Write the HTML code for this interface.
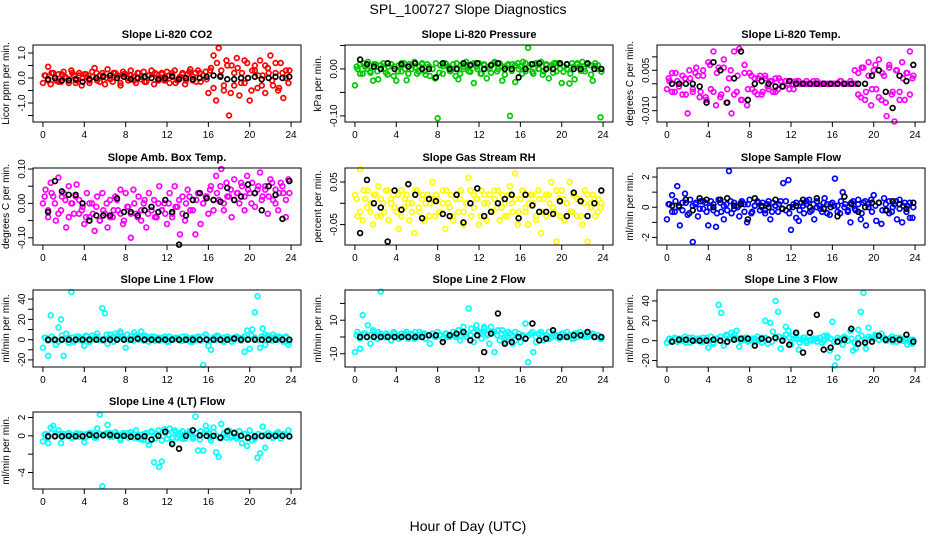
<!DOCTYPE html>
<html><head><meta charset="utf-8">
<style>
html,body{margin:0;padding:0;background:#fff;}
svg{display:block;font-family:"Liberation Sans",sans-serif;}
</style></head>
<body>
<svg id="chart" width="936" height="540" viewBox="0 0 936 540" xmlns="http://www.w3.org/2000/svg">
<text x="468" y="14" text-anchor="middle" font-size="14">SPL_100727  Slope Diagnostics</text>
<text x="468" y="531" text-anchor="middle" font-size="14">Hour of Day (UTC)</text>
</svg>
<script>
const xTicks=[0,4,8,12,16,20,24];
const titles=["Slope Li-820 CO2","Slope Li-820 Pressure","Slope Li-820 Temp.","Slope Amb. Box Temp.","Slope Gas Stream RH","Slope Sample Flow","Slope Line 1 Flow","Slope Line 2 Flow","Slope Line 3 Flow","Slope Line 4 (LT) Flow"];
const yTitles=["Licor ppm per min.","kPa per min.","degrees C per min.","degrees C per min.","percent per min.","ml/min per min.","ml/min per min.","ml/min per min.","ml/min per min.","ml/min per min."];
const colors=["#ff0000","#00c800","#ff00ff","#ff00ff","#ffff00","#0000ff","#00ffff","#00ffff","#00ffff","#00ffff"];
const yRanges=[[-1.76,1.32],[-0.113,0.051],[-0.0142,0.0144],[-0.121,0.103],[-0.098,0.083],[-2.5,2.6],[-27,49],[-17.9,28],[-26.5,51],[-5.8,2.6]];
const yTickVals=[[1,0.5,0,-0.5,-1,-1.5],[0.05,0,-0.05,-0.1],[0.01,0.005,0,-0.005,-0.01],[0.1,0.05,0,-0.05,-0.1],[0.05,0,-0.05],[2,1,0,-1,-2],[40,30,20,10,0,-10,-20],[20,10,0,-10],[40,20,0,-20],[2,0,-2,-4]];
const yTickLabels=[["1.0","","0.0","","-1.0",""],["","0.00","","-0.10"],["","0.005","","","-0.010"],["0.10","","0.00","","-0.10"],["0.05","","-0.05"],["2","","0","","-2"],["40","","20","","0","","-20"],["","10","","-10"],["40","20","0","-20"],["2","0","","-4"]];

const co2=[-0.2,0.1,0.45,-0.25,0.2,-0.1,0.15,-0.15,0.25,0.0,-0.2,0.3,0.1,-0.1,0.2,-0.3,0.15,0.05,-0.2,0.25,0.4,-0.1,0.1,0.2,-0.25,0.35,0.0,-0.15,0.2,0.1,-0.3,0.25,0.15,-0.1,0.3,0.05,-0.2,0.2,-0.05,0.25,-0.15,0.1,0.3,-0.25,0.15,0.0,0.2,-0.1,0.25,-0.2,0.1,0.3,-0.1,0.05,0.2,-0.25,0.15,0.35,-0.1,0.2,0.3,-0.15,0.1,0.25,-0.6,0.4,0.9,-0.9,1.2,0.3,-0.5,0.7,-1.5,0.5,-0.3,0.8,-0.7,0.2,-0.2,0.6,-0.9,0.3,0.5,-0.4,0.7,0.1,-0.6,0.4,0.9,-0.3,0.2,-0.5,0.6,-0.8,0.3,-0.2];
const co2B=[0.1,-0.1,0.2,0.0,-0.15,0.15,0.05,-0.05,0.2,-0.2,0.1,0.0,0.15,-0.1,0.05,0.2,-0.15,0.1,0.0,-0.05,0.2,0.1,-0.2,0.15,0.0,0.1,-0.1,0.2,0.05,-0.15,0.1,0.0,0.2,-0.1,0.15,-0.05,0.1,0.2,-0.2,0.0,0.15,-0.1,0.25,0.05,-0.15,0.2,0.1,-0.05,0.3,-0.4,0.6,0.1,-0.3,0.5,-0.6,0.2,0.4,-0.2,0.7,0.0,-0.5,0.3,0.1,-0.3,0.5,0.2,-0.1,0.6,-0.4,0.2,0.0,0.3];
const co2K=[-0.05,0.0,-0.1,-0.1,-0.05,-0.15,-0.05,0.0,0.05,0.1,0.0,0.05,-0.05,0.0,0.05,0.0,-0.05,0.0,0.05,-0.05,0.0,-0.05,0.0,0.05,0.1,0.05,-0.05,-0.05,0.0,0.0,0.05,-0.05,0.0,0.05,0.0,0.05];
const pres=[-0.035,0.0,0.01,-0.01,0.005,0.015,-0.005,-0.025,0.01,-0.022,0.0,0.012,-0.008,0.005,0.01,-0.015,-0.025,0.008,-0.005,0.012,-0.024,0.01,0.0,0.015,-0.01,0.005,0.012,-0.005,0.01,-0.015,0.0,-0.02,-0.105,0.008,-0.01,0.012,0.005,-0.005,0.01,-0.015,-0.022,0.008,0.0,0.015,-0.005,0.01,-0.03,0.005,0.012,-0.01,0.008,-0.02,0.0,0.01,0.015,-0.005,0.012,-0.025,0.005,0.008,-0.1,0.01,-0.028,0.012,0.005,0.015,-0.005,0.045,0.01,-0.01,0.012,0.0,0.015,-0.005,0.01,-0.02,0.008,0.012,-0.005,0.01,-0.03,0.005,0.0,-0.031,0.012,-0.022,0.01,0.005,0.015,-0.005,0.01,0.008,-0.025,0.012,0.0,-0.103];
const presB=[0.005,-0.01,0.012,0.0,-0.008,0.01,-0.005,0.008,0.0,-0.012,0.01,0.005,-0.005,0.012,0.0,-0.01,0.008,0.003,-0.006,0.01,-0.012,0.005,0.0,0.012,-0.008,0.006,0.01,-0.004,0.0,0.012,-0.01,0.005,0.008,-0.006,0.012,0.0,-0.01,0.01,0.004,-0.008,0.012,0.0,0.006,-0.012,0.01,-0.004,0.008,0.0,-0.01,0.012,0.005,-0.006,0.01,0.0,-0.012,0.008,0.004,-0.008,0.012,0.0,-0.006,0.01,-0.01,0.005,0.012,-0.004,0.0,0.01,-0.012,0.006,0.008,-0.006];
const presK=[0.02,0.01,0.005,0.0,0.012,0.0,0.01,0.005,0.012,0.0,0.0,-0.018,0.012,0.0,0.0,0.012,0.008,0.012,0.0,0.008,0.012,0.0,0.0,-0.018,0.0,0.01,0.012,0.0,0.0,0.012,0.01,0.0,0.0,0.012,0.0,0.0];
const temp=[-0.002,0.001,0.004,-0.003,0.001,0.0,-0.004,0.002,-0.011,0.002,-0.003,0.004,0.003,-0.003,0.005,-0.005,0.008,-0.002,0.012,-0.008,0.006,-0.004,0.009,-0.007,0.002,-0.011,0.012,-0.003,0.013,-0.006,0.007,-0.008,0.004,-0.002,0.002,-0.004,0.003,-0.003,0.002,-0.001,0.001,-0.003,0.002,-0.002,0.001,-0.001,0.001,0.0,0.001,-0.002,0.0,0.001,0.0,0.0,0.001,0.0,0.0,0.0,0.001,0.0,0.0,0.0,0.0,0.0,0.0,0.0,0.0,0.001,0.0,0.0,0.0,0.001,0.0,0.0,0.004,-0.005,0.006,-0.003,0.008,-0.008,0.005,-0.002,0.009,-0.006,0.003,-0.012,0.007,-0.004,-0.014,0.005,-0.003,0.008,-0.006,0.004,0.012,0.002];
const tempB=[0.002,-0.003,0.004,-0.001,0.003,-0.004,0.005,-0.002,0.006,-0.005,0.003,-0.006,0.007,-0.003,0.004,-0.005,0.006,-0.002,0.005,-0.004,0.003,-0.006,0.004,-0.002,0.003,-0.003,0.002,-0.004,0.003,-0.002,0.001,-0.003,0.002,-0.001,0.001,-0.002,0.0,0.001,0.0,0.0,0.0,0.0,0.001,0.0,0.0,0.0,0.0,0.0,0.0,0.0,0.001,0.0,0.0,0.0,0.005,-0.004,0.006,-0.006,0.003,-0.002,0.007,-0.005,0.004,-0.007,0.006,-0.003,0.005,-0.006,0.002,0.004,-0.004,0.003];
const tempK=[0.0,0.0,0.0,0.0,-0.001,-0.007,0.008,0.005,-0.007,0.002,0.012,-0.006,0.0,0.001,0.0,-0.001,-0.001,0.001,0.0,0.0,0.0,0.0,0.0,0.0,0.0,0.0,0.0,0.0,0.0,0.003,0.005,-0.003,-0.009,0.003,0.001,0.007];
const amb=[0.0,0.04,-0.04,0.06,0.02,-0.05,0.075,-0.02,0.03,-0.07,0.05,0.0,-0.03,0.055,0.01,-0.02,-0.06,0.03,-0.04,0.0,-0.08,0.02,-0.05,0.03,-0.03,-0.07,0.01,-0.04,0.02,-0.02,0.04,-0.06,0.03,-0.01,-0.10,0.04,-0.03,0.02,-0.05,0.0,-0.07,0.03,-0.02,0.01,-0.04,0.05,-0.02,0.0,-0.06,0.03,-0.03,0.05,-0.01,-0.09,0.02,-0.05,0.04,-0.02,0.01,-0.09,0.03,-0.06,0.0,0.02,-0.03,0.05,-0.02,0.08,0.01,0.10,-0.02,0.06,0.02,-0.04,0.07,0.03,0.0,0.05,-0.02,0.08,0.03,0.06,-0.01,0.04,0.09,0.02,0.05,-0.03,0.07,0.01,0.04,-0.02,0.06,0.03,-0.04,0.07];
const ambB=[0.02,-0.02,0.03,0.0,-0.03,0.02,0.01,-0.04,0.0,0.02,-0.03,-0.01,-0.04,0.0,-0.03,-0.01,-0.05,-0.02,0.0,-0.04,-0.02,0.01,-0.03,-0.05,-0.01,-0.03,0.0,-0.04,-0.02,0.01,-0.03,-0.01,-0.04,0.0,-0.02,-0.03,0.0,-0.04,-0.01,0.01,-0.03,0.0,0.02,-0.02,0.01,0.03,0.0,0.02,0.04,0.01,0.03,0.05,0.0,0.02,0.04,0.01,0.03,0.06,0.02,0.04,0.0,0.03,0.05,0.01,0.04,0.02,0.06,0.0,0.03,0.05,0.01,0.03];
const ambK=[-0.025,0.065,0.035,0.025,0.025,0.0,-0.05,-0.035,-0.035,-0.035,0.015,-0.025,-0.025,-0.035,-0.02,-0.01,-0.025,0.01,-0.025,-0.12,-0.035,0.01,0.03,0.015,0.01,0.005,0.045,0.01,0.02,0.055,0.03,-0.02,0.05,0.025,-0.045,0.065];
const rh=[0.02,-0.03,0.08,-0.04,0.01,0.03,-0.02,-0.05,0.02,0.04,-0.03,0.0,0.03,-0.04,0.01,0.02,-0.02,-0.06,0.03,-0.01,0.02,-0.04,0.0,-0.07,0.03,-0.02,0.01,-0.04,0.02,0.0,0.05,-0.03,0.01,-0.02,0.03,-0.06,0.0,0.02,-0.04,0.01,-0.02,0.03,-0.05,0.0,0.06,-0.03,0.02,0.01,-0.05,0.03,0.0,-0.04,0.02,-0.02,0.03,-0.01,-0.04,0.02,0.0,-0.03,0.04,-0.02,0.07,-0.05,0.01,0.03,-0.02,-0.05,0.02,0.0,-0.04,0.03,-0.07,0.01,-0.03,0.02,0.05,-0.02,-0.09,0.01,0.03,-0.04,0.0,0.05,-0.02,0.02,-0.03,0.01,-0.05,0.03,-0.09,0.0,0.02,-0.03,0.01,-0.01];
const rhB=[0.01,-0.02,0.03,-0.01,0.0,0.02,-0.03,0.01,-0.02,0.03,0.0,-0.01,0.02,-0.03,0.01,0.0,-0.02,0.03,-0.01,0.02,0.0,-0.03,0.01,0.02,-0.02,0.0,0.03,-0.01,-0.03,0.02,0.01,-0.02,0.0,0.03,-0.01,0.01,-0.03,0.02,0.0,-0.02,0.01,0.03,-0.01,-0.03,0.02,0.0,0.01,-0.02,0.03,-0.01,0.0,0.02,-0.03,0.01,-0.02,0.02,0.0,-0.01,0.03,-0.03,0.01,0.0,-0.02,0.02,0.01,-0.03,0.0,0.02,-0.01,0.01,-0.02,0.0];
const rhK=[-0.07,0.055,0.0,-0.01,-0.09,0.03,-0.015,0.045,0.02,-0.035,0.01,0.005,-0.025,-0.03,0.02,-0.045,0.0,0.035,-0.03,-0.02,0.0,0.01,0.02,-0.035,0.02,-0.005,-0.02,-0.02,-0.025,0.005,-0.03,0.025,0.005,-0.03,0.0,0.03];
const flow=[-0.8,0.2,0.8,-0.3,1.4,-1.2,0.3,0.9,-0.5,0.5,-2.3,0.2,-0.6,0.4,-0.1,0.3,-1.2,0.4,-0.2,-1.3,0.5,-0.3,-0.8,0.2,2.4,-0.4,0.3,0.1,-0.6,0.4,0.2,-1.0,0.5,-0.3,0.1,0.4,-0.2,0.3,-0.4,0.2,-0.8,0.3,0.1,-0.3,0.4,1.6,-0.2,1.8,-1.5,0.2,-0.7,-0.9,0.3,-0.4,0.2,0.5,-0.2,-0.8,0.4,0.1,-0.3,0.6,0.2,-0.5,0.3,1.9,0.1,-0.4,1.0,0.2,-0.3,-1.0,0.4,-0.2,0.5,-0.8,0.3,-1.2,0.2,0.5,0.8,-0.9,0.3,-1.1,0.6,-0.2,0.4,-0.3,0.2,-0.8,0.5,-1.0,0.3,0.1,-0.7,-0.7];
const flowB=[0.2,-0.3,0.4,0.0,-0.2,0.3,-0.4,0.1,0.3,-0.1,0.4,-0.3,0.0,0.2,-0.4,0.3,0.1,-0.2,0.4,-0.1,0.0,0.3,-0.3,0.2,-0.4,0.1,0.3,0.0,-0.2,0.4,-0.3,0.1,0.2,-0.1,0.4,-0.4,0.0,0.3,-0.2,0.1,0.4,-0.3,0.2,0.0,-0.1,0.3,-0.4,0.2,0.1,-0.3,0.4,0.0,-0.2,0.3,-0.1,0.2,-0.4,0.4,0.0,-0.3,0.1,0.3,-0.2,0.2,-0.4,0.0,0.4,-0.1,0.1,-0.3,0.3,0.0];
const flowK=[0.1,0.1,0.5,-0.2,0.6,0.5,0.0,0.5,0.6,0.1,0.2,-0.8,0.6,0.1,0.0,0.5,-0.1,0.0,0.1,0.5,0.0,0.6,-0.1,0.0,-0.6,0.7,0.2,-0.3,0.0,0.3,0.3,-0.2,0.4,0.2,-0.1,0.3];
const l1=[-8,2,-16,24,0,-5,12,20,-16,6,2,47,-2,3,0,1,-6,3,-2,4,1,6,0,31,26,-4,5,2,6,1,8,3,-8,0,3,-1,4,0,2,-1,3,-2,1,3,0,-1,2,1,-2,3,0,1,2,-1,3,0,1,-2,2,0,3,-1,-25,5,-6,-10,2,0,3,-1,2,0,1,-2,2,3,1,2,-12,9,-9,10,27,43,-8,11,-5,4,2,5,3,0,2,-2,3,-5];
const l1B=[2,-1,3,0,-2,4,1,-3,2,0,3,-1,4,-2,1,3,0,-1,5,2,-2,4,6,1,5,3,7,2,8,4,1,3,-1,2,0,3,-2,1,2,0,-1,3,1,-2,2,0,3,1,-1,2,4,0,-2,3,1,0,2,-1,3,1,4,2,0,3,5,1,-1,2,3,0,2,-2];
const l1K=[0,0,0,0,0,0,0,0,0,0,0,0,0,1,0,0,0,0,0,0,0,0,0,0,0,0,0,1,0,0,0,0,0,0,0,0];
const l2=[-9,3,-7,13,2,7,-4,4,1,3,27,0,2,1,-2,3,0,-1,2,1,3,0,2,-1,1,3,0,2,1,-4,2,0,3,1,-1,2,0,1,3,0,4,1,6,2,17,5,-3,7,3,-1,6,2,-4,3,-9,1,-2,4,-3,0,2,-4,3,0,-3,1,8,-15,2,-9,0,2,3,-2,1,3,0,2,1,-1,2,0,3,1,-1,2,0,3,1,2,0,1,2,0,1,-1];
const l2B=[1,-1,2,0,1,3,-1,2,0,1,-2,2,1,0,2,-1,1,3,0,2,-1,1,2,0,1,-1,2,0,3,1,-2,2,0,1,3,4,2,5,1,6,3,4,2,0,3,1,-2,2,0,-1,1,3,-3,2,0,1,-1,2,0,1,2,0,1,-1,2,1,0,2,1,0,1,-1];
const l2K=[0,0,0,0,0,0,0,0,0,0,1,1,-3,1,2,3,-2,1,-9,2,14,-4,-3,0,-1,8,-2,-1,4,0,0,1,1,3,0,0];
const l3=[-2,2,0,3,-1,2,0,4,1,-2,3,0,2,-1,3,1,-7,4,-3,2,36,28,-5,6,2,8,3,10,-6,2,1,3,0,2,-1,4,1,3,20,-3,18,9,40,29,-8,3,14,10,-4,2,6,-9,1,3,-2,4,0,1,2,3,-2,5,3,-10,19,-25,-17,2,-4,3,0,10,-10,-8,11,29,48,-8,13,3,2,5,1,7,3,0,2,4,1,-1,3,0,2,-4,1,-3];
const l3B=[1,-1,2,0,1,-2,3,0,1,2,-1,3,0,-2,2,4,1,5,3,6,2,0,3,-1,1,2,0,-2,3,1,-1,2,4,1,6,3,5,2,-2,3,0,1,2,-1,3,0,5,2,-1,3,1,4,0,2,-2,3,5,1,4,2,6,1,3,0,2,-1,3,1,0,2,-2,1];
const l3K=[-1,1,1,0,0,0,1,0,-1,1,2,2,-5,2,1,3,0,-4,8,-12,8,26,-9,-7,-1,1,12,-3,-2,-1,5,1,1,1,6,-1];
const l4=[-0.6,0.2,-0.8,0.9,1.1,0.3,0.6,-0.8,0.2,0.0,0.3,-0.2,0.1,0.3,-0.1,0.2,-0.7,0.2,0.1,0.3,-0.2,0.8,2.3,-5.5,0.2,1.2,0.3,-0.1,0.4,0.0,-0.5,0.3,0.1,-0.2,0.4,0.2,0.6,-0.3,0.1,-0.4,0.3,-1.0,0.5,-2.9,0.2,-3.4,-2.8,0.7,-0.3,0.8,-0.7,0.6,-0.2,0.3,0.5,-0.3,0.2,0.4,-0.3,2.1,-1.6,0.5,-1.6,1.1,0.3,-0.5,0.9,-1.8,-2.3,1.3,0.3,-0.2,0.6,0.0,0.4,-0.3,0.5,-0.8,0.2,-1.1,0.6,-0.5,-0.3,-2.4,-1.9,1.0,-1.3,0.3,0.1,-0.2,0.2,0.4,-0.3,0.2,0.1,0.6];
const l4B=[0.1,-0.2,0.3,0.0,0.2,-0.1,0.1,0.3,-0.2,0.0,0.2,0.1,-0.1,0.3,0.0,-0.2,0.2,0.1,0.3,-0.1,0.0,0.2,-0.3,0.1,0.3,0.0,-0.2,0.1,-0.4,0.2,-0.6,0.4,-0.3,0.6,-0.5,0.3,0.1,-0.2,0.4,0.0,-0.3,0.2,0.5,-0.1,0.3,-0.4,0.2,0.6,-0.2,0.4,0.0,-0.3,0.2,0.1,-0.2,0.3,-0.1,0.0,0.2,-0.3,0.1,0.0,0.2,-0.1,0.1,0.0,-0.2,0.1,0.2,0.0,0.1,-0.1];
const l4K=[-0.05,-0.05,-0.05,0.0,-0.05,-0.05,0.1,0.05,0.05,0.1,0.0,0.0,-0.1,-0.1,-0.05,-0.4,0.0,0.45,-0.9,-1.4,0.0,0.6,0.05,0.0,0.0,-0.2,0.5,0.3,0.0,-0.2,-0.05,0.0,0.0,0.0,0.0,-0.05];

const seriesC=[co2,pres,temp,amb,rh,flow,l1,l2,l3,l4];
const seriesB=[co2B,presB,tempB,ambB,rhB,flowB,l1B,l2B,l3B,l4B];
const seriesK=[co2K,presK,tempK,ambK,rhK,flowK,l1K,l2K,l3K,l4K];
const panelNames=["co2","pressure","li820-temp","amb-box-temp","gas-stream-rh","sample-flow","line1-flow","line2-flow","line3-flow","line4-flow"];

const NS="http://www.w3.org/2000/svg";
const svg=document.getElementById('chart');
const colX=[33,345,657], rowY=[45,168,290,412], W=268, H=77;
function mk(tag,attrs,parent){const e=document.createElementNS(NS,tag);for(const k in attrs)e.setAttribute(k,attrs[k]);parent.appendChild(e);return e;}

for(let p=0;p<10;p++){
  const x0=colX[p%3], y0=rowY[Math.floor(p/3)];
  const [ymin,ymax]=yRanges[p];
  const xs=h=>x0+W*(h+0.96)/25.92;
  const ys=v=>y0+H*(ymax-v)/(ymax-ymin);
  const g=mk('g',{},svg);
  
  
  const t=mk('text',{x:x0+W/2,y:y0-7,'text-anchor':'middle','font-size':'11','font-weight':'bold'},g);
  
  
  t.textContent=titles[p];
  const yt=mk('text',{transform:`translate(${x0-24},${y0+H/2}) rotate(-90)`,'text-anchor':'middle','font-size':'10'},g);
  
  
  yt.textContent=yTitles[p];
  const pts=mk('g',{fill:'none',stroke:colors[p],'stroke-width':'1.7'},g);
  
  
  const b=seriesB[p];
  for(let i=0;i<b.length;i++){
    const e=mk('circle',{cx:xs((i+0.5)*24/b.length),cy:ys(b[i]),r:2.4},pts);
    
    
  }
  const c=seriesC[p];
  for(let i=0;i<c.length;i++){
    const e=mk('circle',{cx:xs(i*24/c.length),cy:ys(c[i]),r:2.4},pts);
    
    
  }
  const kp=mk('g',{fill:'none',stroke:'#000','stroke-width':'1.7'},g);
  
  
  const k=seriesK[p];
  for(let i=0;i<k.length;i++){
    const e=mk('circle',{cx:xs(0.5+i*23.33/(k.length-1)),cy:ys(k[i]),r:2.4},kp);
    
    
  }
  const box=mk('rect',{x:x0,y:y0,width:W,height:H,fill:'none',stroke:'#000','stroke-width':'1'},g);
  
  
  const xa=mk('g',{stroke:'#000','stroke-width':'1'},g);
  
  
  mk('line',{x1:xs(0),x2:xs(24),y1:y0+H,y2:y0+H},xa);
  xTicks.forEach(v=>{
    mk('line',{x1:xs(v),x2:xs(v),y1:y0+H,y2:y0+H+5},xa);
    const tl=mk('text',{x:xs(v),y:y0+H+16,'text-anchor':'middle','font-size':'10',stroke:'none',fill:'#000'},xa);
    
    
    tl.textContent=v;
  });
  const ya=mk('g',{stroke:'#000','stroke-width':'1'},g);
  
  
  const tv=yTickVals[p];
  mk('line',{x1:x0,x2:x0,y1:ys(tv[0]),y2:ys(tv[tv.length-1])},ya);
  tv.forEach((v,i)=>{
    mk('line',{x1:x0-5,x2:x0,y1:ys(v),y2:ys(v)},ya);
    if(yTickLabels[p][i]){
      const tl=mk('text',{transform:`translate(${x0-8},${ys(v)}) rotate(-90)`,'text-anchor':'middle','font-size':'10',stroke:'none',fill:'#000'},ya);
      
      
      tl.textContent=yTickLabels[p][i];
    }
  });
}
</script>
</body></html>
